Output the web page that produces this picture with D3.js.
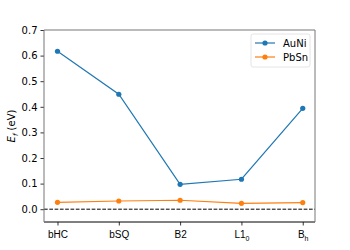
<!DOCTYPE html>
<html>
<head>
<meta charset="utf-8">
<script src="https://cdn.jsdelivr.net/npm/d3@7"></script>
<style>
body { margin: 0; background: #fff; }
svg { font-family: "DejaVu Sans", sans-serif; }
</style>
</head>
<body>
<div id="chart"></div>
<script>

// categories (x), with subscripts split out
var cats = [ ["bHC", ""], ["bSQ", ""], ["B2", ""], ["L1", "0"], ["B", "h"] ];

// formation energies (eV)
var auni = [0.617, 0.449, 0.097, 0.117, 0.394];
var pbsn = [0.027, 0.032, 0.035, 0.023, 0.026];

var yticks = [0.0, 0.1, 0.2, 0.3, 0.4, 0.5, 0.6, 0.7];

var series = [
	{ name: "AuNi", vals: auni, color: "#1f77b4" },
	{ name: "PbSn", vals: pbsn, color: "#ff7f0e" }
];

var W = 350, H = 250;
var margin = { top: 30, right: 35, bottom: 28, left: 44 },
	width = W - margin.left - margin.right,
	height = H - margin.top - margin.bottom;

var svg = d3.select("#chart").append("svg")
	.attr("width", W)
	.attr("height", H);

var g = svg.append("g")
	.attr("transform", `translate(${margin.left},${margin.top})`);

var x = d3.scaleLinear().domain([-0.22, 4.2]).range([0, width]);
var y = d3.scaleLinear().domain([-0.05, 0.7]).range([height, 0]);

// axes
var yaxis = g.append("g")
	.call(d3.axisLeft(y).tickValues(yticks).tickFormat(d3.format(".1f")).tickSizeOuter(0).tickSize(3.5));
var xaxis = g.append("g")
	.attr("transform", `translate(0,${height})`)
	.call(d3.axisBottom(x).tickValues(d3.range(cats.length)).tickFormat("").tickSizeOuter(0).tickSize(3.5));

[yaxis, xaxis].forEach(a => {
	a.select(".domain").remove();
	a.selectAll("line").attr("stroke", "#000").attr("stroke-width", 0.8);
	a.selectAll("text").attr("font-size", 10).attr("fill", "#000").attr("font-family", "DejaVu Sans");
});

// x tick labels with subscripts
xaxis.selectAll(".tick").append("text")
	.attr("y", 16)
	.attr("fill", "#000")
	.attr("font-size", 10)
	.attr("text-anchor", "middle")
	.each(function(d) {
		var t = d3.select(this);
		t.append("tspan").text(cats[d][0]);
		if (cats[d][1])
			t.append("tspan").attr("font-size", 7).attr("dy", 3).text(cats[d][1]);
	});

// zero line
g.append("line")
	.attr("x1", 0).attr("x2", width)
	.attr("y1", y(0)).attr("y2", y(0))
	.attr("stroke", "#000")
	.attr("stroke-width", 1)
	.attr("stroke-dasharray", "3.7,1.6");

// series
var line = d3.line().x((d, i) => x(i)).y(d => y(d));
series.forEach(s => {
	g.append("path")
		.attr("d", line(s.vals))
		.attr("fill", "none")
		.attr("stroke", s.color)
		.attr("stroke-width", 1.2);
	g.selectAll(null).data(s.vals).enter().append("circle")
		.attr("cx", (d, i) => x(i))
		.attr("cy", d => y(d))
		.attr("r", 2.6)
		.attr("fill", s.color);
});

// spines
g.append("line").attr("x1", 0).attr("x2", width).attr("y1", height).attr("y2", height)
	.attr("stroke", "#000").attr("stroke-width", 1);
g.append("line").attr("x1", 0).attr("x2", 0).attr("y1", 0).attr("y2", height)
	.attr("stroke", "#777").attr("stroke-width", 1);
g.append("line").attr("x1", 0).attr("x2", width).attr("y1", 0).attr("y2", 0)
	.attr("stroke", "#777").attr("stroke-width", 1);
g.append("line").attr("x1", width).attr("x2", width).attr("y1", 0).attr("y2", height)
	.attr("stroke", "#777").attr("stroke-width", 1);

// y label
var yl = svg.append("text")
	.attr("transform", `translate(15,${margin.top + height / 2}) rotate(-90)`)
	.attr("text-anchor", "middle")
	.attr("font-size", 10)
	.attr("fill", "#000");
yl.append("tspan").attr("font-style", "italic").text("E");
yl.append("tspan").attr("font-style", "italic").attr("font-size", 7).attr("dy", 2.5).text("f");
yl.append("tspan").attr("dy", -2.5).text(" (eV)");

// legend
var lg = g.append("g").attr("transform", `translate(${width - 64},4)`);
lg.append("rect")
	.attr("width", 59).attr("height", 33).attr("rx", 2)
	.attr("fill", "#fff").attr("fill-opacity", 0.8)
	.attr("stroke", "#ddd").attr("stroke-width", 0.8);
series.forEach((s, i) => {
	var row = lg.append("g").attr("transform", `translate(4,${9 + i * 14})`);
	row.append("line").attr("x1", 0).attr("x2", 20)
		.attr("stroke", s.color).attr("stroke-width", 1.2);
	row.append("circle").attr("cx", 10).attr("r", 2.6).attr("fill", s.color);
	row.append("text").attr("x", 28).attr("dy", "0.35em")
		.attr("font-size", 10).attr("fill", "#000").text(s.name);
});

</script>
</body>
</html>
